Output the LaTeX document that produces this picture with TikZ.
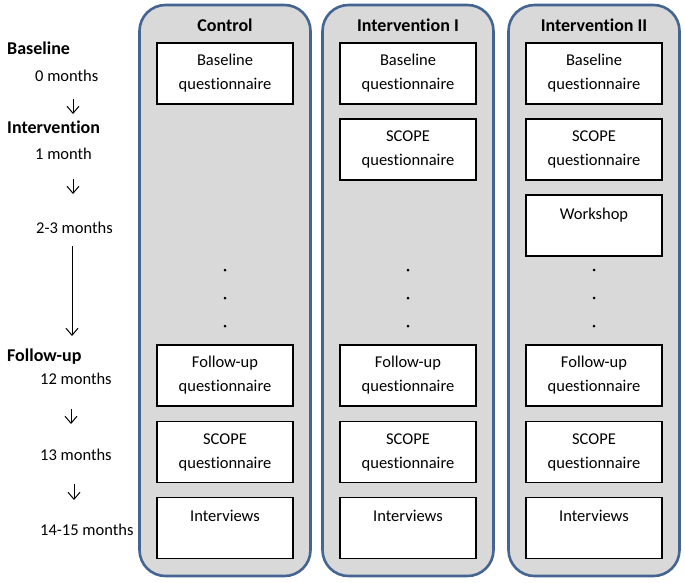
\documentclass[tikz,border=0pt]{standalone}
\usepackage{fontspec}
\setmainfont{Carlito}[Ligatures=NoCommon]
\usetikzlibrary{arrows.meta}

\definecolor{armborder}{RGB}{68,100,146}
\definecolor{armfill}{RGB}{217,217,217}

\tikzset{
	arm/.style={draw=armborder, line width=2.6pt, fill=armfill, rounded corners=26pt, minimum width=171pt, minimum height=571pt, inner sep=0pt},
	stepbox/.style={draw, line width=1.1pt, fill=white, minimum width=136pt, minimum height=61pt, align=center, font=\fontsize{16.5}{24}\selectfont, inner sep=0pt},
	armhead/.style={font=\fontsize{18}{20}\selectfont\bfseries},
	phase/.style={font=\fontsize{18}{20}\selectfont\bfseries, anchor=west, inner sep=0pt},
	when/.style={font=\fontsize{16.5}{20}\selectfont, anchor=west, inner sep=0pt},
	timeline/.style={line width=1pt, -{Straight Barb[length=7pt,width=12pt]}},
	dot/.style={circle, fill=black, inner sep=0pt, minimum size=3pt}
}

\begin{document}
\begin{tikzpicture}[x=1pt,y=-1pt]
	\useasboundingbox (0,0) rectangle (685,582);

	% study arms
	\foreach \c/\x/\t in {ctrl/225/Control,intA/408/Intervention I,intB/594/Intervention II}{
		\node[arm] (arm-\c) at (\x,290.5) {};
		\node[armhead] (head-\c) at (\x,25) {\t};
		\node[stepbox] (base-\c) at (\x,73.5) {Baseline\\questionnaire};
		\node[stepbox] (follow-\c) at (\x,375.5) {Follow-up\\questionnaire};
		\node[stepbox] (scopeB-\c) at (\x,452) {SCOPE\\questionnaire};
		\node[stepbox] (interv-\c) at (\x,528) {Interviews\\\mbox{}};
		\foreach \y [count=\k] in {270,298,326}
			\node[dot] (dot\k-\c) at (\x,\y) {};
	}
	\node[stepbox] (scopeA-intA) at (408,149.5) {SCOPE\\questionnaire};
	\node[stepbox] (scopeA-intB) at (594,149.5) {SCOPE\\questionnaire};
	\node[stepbox] (workshop) at (594,225.5) {Workshop\\\mbox{}};

	% time line
	\node[phase] (pBase) at (7,48) {Baseline};
	\node[when] (t0) at (35,76) {0 months};
	\node[phase] (pInt) at (7,127) {Intervention};
	\node[when] (t1) at (35,154) {1 month};
	\node[when] (t23) at (36,228) {2-3 months};
	\node[phase] (pFol) at (7,357) {Follow-up};
	\node[when] (t12) at (40,379) {12 months};
	\node[when] (t13) at (40,455) {13 months};
	\node[when] (t1415) at (40,530) {14-15 months};

	\foreach \n/\x/\ya/\yb in {1/73/99/114,2/73/179/194,3/72/246/336,4/71/409/424,5/74/484/500}{
		\coordinate (top\n) at (\x,\ya);
		\coordinate (tip\n) at (\x,\yb);
		\draw[timeline] (top\n) -- (tip\n);
	}
\end{tikzpicture}
\end{document}
